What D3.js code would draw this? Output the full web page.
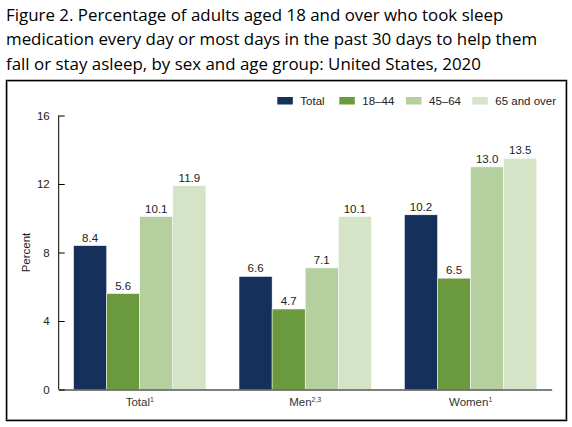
<!DOCTYPE html>
<html>
<head>
<meta charset="utf-8">
<script src="https://cdn.jsdelivr.net/npm/d3@7"></script>
<style>
  html, body { margin: 0; padding: 0; background: #fff; }
  svg { display: block; }
</style>
</head>
<body>
<script>
const titleLines = [
  "Figure 2. Percentage of adults aged 18 and over who took sleep",
  "medication every day or most days in the past 30 days to help them",
  "fall or stay asleep, by sex and age group: United States, 2020"
];
const categories = ["Total", "Men", "Women"];
const categorySup = ["1", "2,3", "1"];
const seriesNames = ["Total", "18–44", "45–64", "65 and over"];
const seriesColors = ["#15305a", "#6b9a3e", "#b6cf9f", "#d5e3c6"];
const valuesTotal = [8.4, 6.6, 10.2];
const values18to44 = [5.6, 4.7, 6.5];
const values45to64 = [10.1, 7.1, 13.0];
const values65plus = [11.9, 10.1, 13.5];
const yTicks = [0, 4, 8, 12, 16];

const seriesValues = [valuesTotal, values18to44, values45to64, values65plus];

const W = 572, H = 427;
const svg = d3.select("body").append("svg").attr("width", W).attr("height", H);

// Title
svg.append("g").selectAll("text").data(titleLines).join("text")
  .attr("x", 6)
  .attr("y", (d, i) => 20.5 + i * 24.5)
  .attr("font-family", "'Open Sans', sans-serif")
  .attr("font-size", 16.9)
  .attr("fill", "#000")
  .text(d => d);

// Frame
svg.append("rect").attr("x", 6.5).attr("y", 80.5).attr("width", 560).attr("height", 340)
  .attr("fill", "none").attr("stroke", "#000").attr("stroke-width", 1.5);
svg.append("rect").attr("x", 7.5).attr("y", 81.5).attr("width", 558).attr("height", 338)
  .attr("fill", "none").attr("stroke", "#999").attr("stroke-width", 1);

const x0 = d3.scaleBand().domain(categories).range([58.7, 551.7]).paddingInner(0.2).paddingOuter(0.09);
const x1 = d3.scaleBand().domain(seriesNames).range([0, x0.bandwidth()]).padding(0);
const y = d3.scaleLinear().domain([0, 16]).range([389.5, 115.5]);

const font = "'Liberation Sans', Arial, sans-serif";

// Bars
const groups = svg.append("g").selectAll("g").data(categories).join("g")
  .attr("transform", d => `translate(${x0(d)},0)`);
groups.each(function(cat, ci) {
  const g = d3.select(this);
  const data = seriesNames.map((s, si) => ({ s, si, v: seriesValues[si][ci] }));
  g.selectAll("rect").data(data).join("rect")
    .attr("x", d => x1(d.s))
    .attr("y", d => y(d.v))
    .attr("width", x1.bandwidth())
    .attr("height", d => y(0) - y(d.v))
    .attr("fill", d => seriesColors[d.si])
    .attr("stroke", "#fff").attr("stroke-width", 0.5);
  g.selectAll("text").data(data).join("text")
    .attr("x", d => x1(d.s) + x1.bandwidth() / 2)
    .attr("y", d => y(d.v) - 4)
    .attr("text-anchor", "middle")
    .attr("font-family", font).attr("font-size", 11.5).attr("fill", "#222")
    .text(d => d.v.toFixed(1));
});

// Y axis
const yAxis = d3.axisRight(y).tickValues(yTicks).tickSize(6).tickFormat(d3.format("d"));
const ya = svg.append("g").attr("transform", "translate(58.7,0)").call(yAxis);
ya.select(".domain").attr("stroke", "#000").attr("d", `M0,${y(16)}V${y(0)}`);
ya.selectAll(".tick line").attr("stroke", "#000");
ya.selectAll(".tick text").attr("x", -9).attr("text-anchor", "end")
  .attr("font-family", font).attr("font-size", 11.5).attr("fill", "#222");

// X axis baseline
const xAxis = d3.axisBottom(x0).tickSize(0).tickFormat("");
const xa = svg.append("g").attr("transform", `translate(0,${y(0)})`).call(xAxis);
xa.select(".domain").attr("stroke", "#000");
xa.selectAll(".tick").each(function(d, i) {
  const t = d3.select(this).append("text")
    .attr("y", 16).attr("dy", "0")
    .attr("text-anchor", "middle")
    .attr("font-family", font).attr("font-size", 11.5).attr("fill", "#333");
  t.append("tspan").text(d);
  t.append("tspan").attr("font-size", 7).attr("dy", -4).text(categorySup[i]);
});

// Y label
svg.append("text")
  .attr("transform", `translate(30,${(y(0) + y(16)) / 2}) rotate(-90)`)
  .attr("text-anchor", "middle")
  .attr("font-family", font).attr("font-size", 11.5).attr("fill", "#222")
  .text("Percent");

// Legend
const legendX = [277.3, 339.3, 406, 472.3];
const lg = svg.append("g").selectAll("g").data(seriesNames).join("g")
  .attr("transform", (d, i) => `translate(${legendX[i]},97)`);
lg.append("rect").attr("width", 15.5).attr("height", 7.5).attr("fill", (d, i) => seriesColors[i]);
lg.append("text").attr("x", 23).attr("y", 7.5)
  .attr("font-family", font).attr("font-size", 11.5).attr("fill", "#222")
  .text(d => d);
</script>
</body>
</html>
